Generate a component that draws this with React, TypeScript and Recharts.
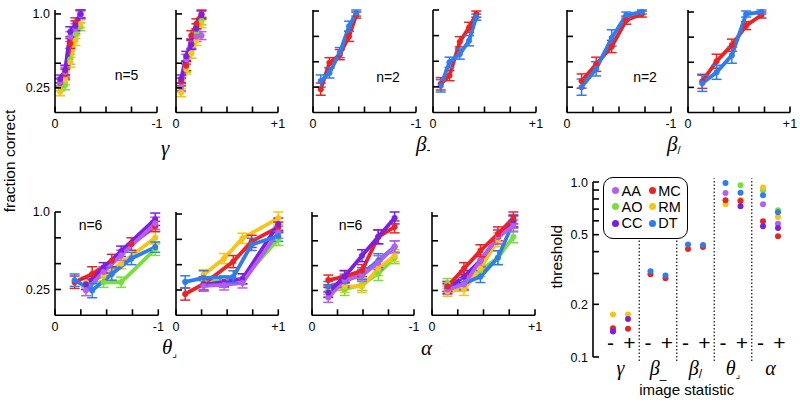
import React from 'react';
import { LineChart, Line, XAxis, YAxis, ErrorBar, ScatterChart, Scatter, ReferenceLine } from 'recharts';

const SANS = '"Liberation Sans", Arial, Helvetica, sans-serif';
const SERIF = '"Liberation Serif", "Times New Roman", serif';

const COLORS: Record<string, string> = {
  AA: '#b65ef2',
  MC: '#ee2222',
  AO: '#79e03a',
  RM: '#f6c414',
  CC: '#7b1fe3',
  DT: '#2e7df0',
};
const LEGEND_ROWS = [['AA', 'MC'], ['AO', 'RM'], ['CC', 'DT']];

// ---- psychometric data: gamma ----
const gammaX = [0.05, 0.1, 0.15, 0.2, 0.25];
const gNegAO = [0.26, 0.28, 0.54, 0.8, 0.87];
const gNegRM = [0.21, 0.33, 0.51, 0.73, 0.9];
const gNegMC = [0.3, 0.39, 0.7, 0.91, 1.0];
const gNegAA = [0.31, 0.41, 0.77, 0.85, 0.99];
const gNegCC = [0.34, 0.43, 0.82, 0.88, 1.0];
const gPosAO = [0.25, 0.46, 0.6, 0.8, 0.93];
const gPosRM = [0.2, 0.44, 0.6, 0.73, 0.9];
const gPosMC = [0.31, 0.475, 0.78, 0.9, 1.0];
const gPosAA = [0.26, 0.54, 0.7, 0.77, 0.78];
const gPosCC = [0.34, 0.57, 0.69, 0.85, 0.99];
const gammaErr = [0.04, 0.05, 0.05, 0.05, 0.04];

// ---- beta_ (horizontal) ----
const bhX = [0.075, 0.16, 0.26, 0.35, 0.42];
const bhNegMC = [0.23, 0.49, 0.57, 0.75, 0.96];
const bhNegDT = [0.31, 0.39, 0.59, 0.85, 0.98];
const bhPosMC = [0.28, 0.36, 0.69, 0.83, 0.96];
const bhPosDT = [0.26, 0.49, 0.57, 0.7, 0.93];
const bhErr = [0.06, 0.05, 0.05, 0.05, 0.03];

// ---- beta/ (oblique) ----
const boX = [0.14, 0.28, 0.43, 0.57, 0.72];
const boNegMC = [0.31, 0.475, 0.65, 0.91, 0.97];
const boNegDT = [0.25, 0.43, 0.735, 0.96, 0.99];
const boPosMC = [0.31, 0.51, 0.67, 0.865, 0.97];
const boPosDT = [0.29, 0.4, 0.57, 0.98, 1.0];
const boErrMC = [0.07, 0.07, 0.06, 0.04, 0.03];
const boErrDT = [0.08, 0.07, 0.08, 0.03, 0.02];

// ---- theta (corner) ----
const thNegX5 = [0.19, 0.36, 0.55, 0.74, 0.97];
const thNegX4 = [0.3, 0.47, 0.64, 0.97];
const thNegMC = [0.32, 0.4, 0.53, 0.69, 0.86];
const thNegDT = [0.34, 0.24, 0.4, 0.55, 0.66];
const thNegAO = [0.3, 0.32, 0.32, 0.64];
const thNegRM = [0.32, 0.38, 0.5, 0.75];
const thNegAA = [0.24, 0.42, 0.58, 0.89];
const thNegCC = [0.3, 0.46, 0.62, 0.93];
const thPosX5 = [0.09, 0.27, 0.56, 0.74, 1.0];
const thPosX4 = [0.27, 0.47, 0.65, 1.0];
const thPosMC = [0.21, 0.31, 0.53, 0.73, 0.87];
const thPosDT = [0.33, 0.37, 0.38, 0.7, 0.78];
const thPosRM = [0.4, 0.56, 0.76, 0.96];
const thPosAO = [0.33, 0.34, 0.36, 0.75];
const thPosAA = [0.29, 0.3, 0.32, 0.82];
const thPosCC = [0.3, 0.33, 0.36, 0.9];
const thErr5 = [0.06, 0.07, 0.06, 0.06, 0.05];
const thErr4 = [0.05, 0.05, 0.05, 0.06];

// ---- alpha ----
const alNegX = [0.16, 0.32, 0.49, 0.65, 0.81];
const alNegAO = [0.26, 0.26, 0.31, 0.42, 0.58];
const alNegRM = [0.24, 0.29, 0.29, 0.47, 0.6];
const alNegDT = [0.29, 0.34, 0.42, 0.55, 0.69];
const alNegAA = [0.18, 0.355, 0.4, 0.53, 0.69];
const alNegMC = [0.355, 0.39, 0.45, 0.79, 0.89];
const alNegCC = [0.23, 0.39, 0.6, 0.79, 0.98];
const alPosX = [0.15, 0.31, 0.47, 0.64, 0.79];
const alPosAO = [0.32, 0.32, 0.45, 0.58, 0.79];
const alPosRM = [0.24, 0.26, 0.47, 0.76, 0.94];
const alPosDT = [0.29, 0.32, 0.39, 0.58, 0.94];
const alPosAA = [0.26, 0.31, 0.55, 0.79, 0.9];
const alPosCC = [0.27, 0.39, 0.55, 0.79, 0.95];
const alPosMC = [0.29, 0.47, 0.65, 0.82, 0.98];
const alErr = [0.05, 0.06, 0.06, 0.07, 0.06];

// ---- thresholds: order gamma-, gamma+, beta_-, beta_+, beta/-, beta/+, theta-, theta+, alpha-, alpha+
const thrAA = [0.142, null, null, null, null, null, 0.865, null, 0.746, 0.578];
const thrAO = [null, null, null, null, null, null, null, 0.957, 0.897, 0.689];
const thrRM = [0.175, 0.175, null, null, null, null, 0.746, 0.79, 0.929, 0.631];
const thrMC = [0.146, 0.145, 0.297, 0.282, 0.414, 0.425, 0.786, 0.78, 0.596, 0.49];
const thrCC = [0.14, 0.165, null, null, null, null, null, 0.727, 0.558, 0.546];
const thrDT = [null, null, 0.309, 0.292, 0.44, 0.437, 0.987, 0.868, 0.839, 0.671];
const THR_GROUP_LABELS = [
  { base: 'γ', sub: '' },
  { base: 'β', sub: '_' },
  { base: 'β', sub: '/' },
  { base: 'θ', sub: '⌟' },
  { base: 'α', sub: '' },
];
const THR_SIGNS = ['-', '+'];
const THR_Y_TICKS = [0.1, 0.2, 0.3, 0.4, 0.5, 0.6, 0.7, 0.8, 0.9, 1.0];
const THR_Y_LABELED = [0.1, 0.2, 0.5, 1.0];

const X_TICKS = [0, 0.25, 0.5, 0.75, 1];
const Y_TICKS = [0.25, 0.5, 0.75, 1];

type Pt = { x: number; y: number; e: number };
const mk = (xs: number[], ys: number[], es: number[]): Pt[] => xs.map((x, i) => ({ x, y: ys[i], e: es[i] }));
const thrPts = (vals: (number | null)[]) =>
  vals
    .map((v, i) => (v == null ? null : { x: Math.floor(i / 2) - 0.2 + 0.4 * (i % 2), y: v }))
    .filter(Boolean) as { x: number; y: number }[];

const PANELS = [
  { x0: 55, w: 102, yTop: 9.5, yBot: 112, end: '-1', showY: true,
    series: [['AO', mk(gammaX, gNegAO, gammaErr)], ['RM', mk(gammaX, gNegRM, gammaErr)], ['MC', mk(gammaX, gNegMC, gammaErr)], ['AA', mk(gammaX, gNegAA, gammaErr)], ['CC', mk(gammaX, gNegCC, gammaErr)]] },
  { x0: 176, w: 102, yTop: 9.5, yBot: 112, end: '+1', showY: false,
    series: [['AO', mk(gammaX, gPosAO, gammaErr)], ['RM', mk(gammaX, gPosRM, gammaErr)], ['MC', mk(gammaX, gPosMC, gammaErr)], ['AA', mk(gammaX, gPosAA, gammaErr)], ['CC', mk(gammaX, gPosCC, gammaErr)]] },
  { x0: 313, w: 103, yTop: 9.5, yBot: 112, end: '-1', showY: false,
    series: [['MC', mk(bhX, bhNegMC, bhErr)], ['DT', mk(bhX, bhNegDT, bhErr)]] },
  { x0: 433, w: 103, yTop: 9.5, yBot: 112, end: '+1', showY: false,
    series: [['MC', mk(bhX, bhPosMC, bhErr)], ['DT', mk(bhX, bhPosDT, bhErr)]] },
  { x0: 567, w: 104, yTop: 9.5, yBot: 112, end: '-1', showY: false,
    series: [['MC', mk(boX, boNegMC, boErrMC)], ['DT', mk(boX, boNegDT, boErrDT)]] },
  { x0: 688, w: 102, yTop: 9.5, yBot: 112, end: '+1', showY: false,
    series: [['MC', mk(boX, boPosMC, boErrMC)], ['DT', mk(boX, boPosDT, boErrDT)]] },
  { x0: 55, w: 103.3, yTop: 211.7, yBot: 315, end: '-1', showY: true,
    series: [['AO', mk(thNegX4, thNegAO, thErr4)], ['RM', mk(thNegX4, thNegRM, thErr4)], ['MC', mk(thNegX5, thNegMC, thErr5)], ['CC', mk(thNegX4, thNegCC, thErr4)], ['AA', mk(thNegX4, thNegAA, thErr4)], ['DT', mk(thNegX5, thNegDT, thErr5)]] },
  { x0: 176, w: 102.3, yTop: 211.7, yBot: 315, end: '+1', showY: false,
    series: [['AO', mk(thPosX4, thPosAO, thErr4)], ['RM', mk(thPosX4, thPosRM, thErr4)], ['MC', mk(thPosX5, thPosMC, thErr5)], ['CC', mk(thPosX4, thPosCC, thErr4)], ['AA', mk(thPosX4, thPosAA, thErr4)], ['DT', mk(thPosX5, thPosDT, thErr5)]] },
  { x0: 312, w: 102, yTop: 211.7, yBot: 315, end: '-1', showY: false,
    series: [['AO', mk(alNegX, alNegAO, alErr)], ['RM', mk(alNegX, alNegRM, alErr)], ['DT', mk(alNegX, alNegDT, alErr)], ['AA', mk(alNegX, alNegAA, alErr)], ['MC', mk(alNegX, alNegMC, alErr)], ['CC', mk(alNegX, alNegCC, alErr)]] },
  { x0: 432, w: 103, yTop: 211.7, yBot: 315, end: '+1', showY: false,
    series: [['AO', mk(alPosX, alPosAO, alErr)], ['RM', mk(alPosX, alPosRM, alErr)], ['DT', mk(alPosX, alPosDT, alErr)], ['CC', mk(alPosX, alPosCC, alErr)], ['AA', mk(alPosX, alPosAA, alErr)], ['MC', mk(alPosX, alPosMC, alErr)]] },
];

const THR_SERIES: [string, (number | null)[]][] = [
  ['AO', thrAO], ['RM', thrRM], ['AA', thrAA], ['MC', thrMC], ['CC', thrCC], ['DT', thrDT],
];

const XTick = (props: any) => {
  const { x, y, payload, endLabel } = props;
  const v = payload.value;
  const label = v === 0 ? '0' : v === 1 ? endLabel : null;
  return (
    <g>
      <line x1={x} x2={x} y1={y} y2={y - 6} stroke="#000" strokeWidth={1.6} />
      {label && (
        <text x={x} y={y + 15.5} textAnchor="middle" fontSize={12.5} fontFamily={SANS} fill="#000">{label}</text>
      )}
    </g>
  );
};

const YTick = (props: any) => {
  const { x, y, payload, showLabel, labeled, fmt } = props;
  const v = payload.value;
  const show = showLabel && labeled.some((l: number) => Math.abs(l - v) < 1e-9);
  return (
    <g>
      <line x1={x} x2={x + 6} y1={y} y2={y} stroke="#000" strokeWidth={1.6} />
      {show && (
        <text x={x - 5} y={y + 4.5} textAnchor="end" fontSize={12.5} fontFamily={SANS} fill="#000">{fmt(v)}</text>
      )}
    </g>
  );
};

const fmtPsy = (v: number) => (v === 1 ? '1.0' : String(v));

function PsyPanel({ x0, w, yTop, yBot, end, showY, series }: any) {
  // axis boxes are 1px thick; margins are set so the plot box lands on x0..x0+w, yTop..yBot
  const ML = 44, MR = 16, MT = 10, MB = 23;
  const h = yBot - yTop;
  return (
    <div style={{ position: 'absolute', left: x0 - ML - 1, top: yTop - MT }}>
      <LineChart width={w + ML + 1 + MR} height={h + MT + MB + 1} margin={{ left: ML, right: MR, top: MT, bottom: MB }}>
        <XAxis type="number" dataKey="x" domain={[0, 1]} ticks={X_TICKS} interval={0} height={1}
          tickSize={0} tickMargin={0} tickLine={false} axisLine={{ stroke: '#000', strokeWidth: 1.6 }}
          tick={(p: any) => <XTick {...p} endLabel={end} />} />
        <YAxis type="number" domain={[0, 1]} ticks={Y_TICKS} interval={0} width={1}
          tickSize={0} tickMargin={0} tickLine={false} axisLine={{ stroke: '#000', strokeWidth: 1.6 }}
          tick={(p: any) => <YTick {...p} showLabel={showY} labeled={[0.25, 1]} fmt={fmtPsy} />} />
        {series.map(([id, pts]: [string, Pt[]]) => (
          <Line key={id} data={pts} dataKey="y" type="linear" stroke={COLORS[id]} strokeWidth={3.8}
            dot={{ r: 2.8, fill: COLORS[id], stroke: COLORS[id], strokeWidth: 0.5 }} activeDot={false}
            isAnimationActive={false}>
            <ErrorBar dataKey="e" width={5} strokeWidth={1.5} stroke={COLORS[id]} direction="y" isAnimationActive={false} />
          </Line>
        ))}
      </LineChart>
    </div>
  );
}

// group label tick: draws the "-" / "+" condition marks above and the statistic symbol below
const GroupTick = (props: any) => {
  const { x, y, payload } = props;
  const lab = THR_GROUP_LABELS[Math.round(payload.value)];
  if (!lab) return <g />;
  return (
    <g>
      <text x={x - 10} y={y - 7.5} textAnchor="middle" fontSize={21} fontFamily={SANS} fill="#000">{THR_SIGNS[0]}</text>
      <text x={x + 9} y={y - 7.5} textAnchor="middle" fontSize={21} fontFamily={SANS} fill="#000">{THR_SIGNS[1]}</text>
      <text x={x} y={y + 17.5} textAnchor="middle" fontSize={20} fontFamily={SERIF} fontStyle="italic" fill="#000">
        {lab.base}
        {lab.sub && (
          <tspan fontSize={lab.sub === '⌟' ? 10 : 12} fontStyle="normal" fontFamily={lab.sub === '⌟' ? '"DejaVu Sans", sans-serif' : SANS} dy={3}>{lab.sub}</tspan>
        )}
      </text>
    </g>
  );
};

function ThresholdPanel() {
  const ML = 44, MR = 7, MT = 10, MB = 38;
  const x0 = 593, w = 200, yTop = 181.7, yBot = 356.7;
  const dom: [number, number] = [-0.733, 4.6];
  return (
    <div style={{ position: 'absolute', left: x0 - ML - 1, top: yTop - MT }}>
      <ScatterChart width={w + ML + 1 + MR} height={yBot - yTop + MT + MB + 1} margin={{ left: ML, right: MR, top: MT, bottom: MB }}>
        <XAxis type="number" dataKey="x" domain={dom} ticks={[0, 1, 2, 3, 4]} interval={0} height={1}
          tickSize={0} tickMargin={0} tickLine={false} axisLine={false} tick={(p: any) => <GroupTick {...p} />} />
        <YAxis type="number" dataKey="y" scale="log" domain={[0.1, 1]} ticks={THR_Y_TICKS} interval={0} width={1}
          tickSize={0} tickMargin={0} tickLine={false} axisLine={{ stroke: '#000', strokeWidth: 1.6 }}
          tick={(p: any) => <YTick {...p} showLabel={true} labeled={THR_Y_LABELED} fmt={(v: number) => v.toFixed(1)} />} />
        {[0.5, 1.5, 2.5, 3.5].map((sx) => (
          <ReferenceLine key={sx} segment={[{ x: sx, y: 0.095 }, { x: sx, y: 1.05 }]} ifOverflow="visible"
            stroke="#222" strokeWidth={1.3} strokeDasharray="1.5 2" />
        ))}
        {THR_SERIES.map(([id, vals]) => (
          <Scatter key={id} data={thrPts(vals)} fill={COLORS[id]} isAnimationActive={false}
            shape={(p: any) => <circle cx={p.cx} cy={p.cy} r={3} fill={COLORS[id]} />} />
        ))}
      </ScatterChart>
    </div>
  );
}

function LegendBox() {
  return (
    <div style={{ position: 'absolute', left: 603, top: 177, width: 85, height: 62, border: '1.6px solid #000', borderRadius: 10, background: '#fff', boxSizing: 'border-box', fontFamily: SANS }}>
      {LEGEND_ROWS.map((row, ri) =>
        row.map((id, ci) => (
          <div key={id} style={{ position: 'absolute', left: 8 + ci * 36.7, top: 4.5 + ri * 16.3, height: 16, display: 'flex', alignItems: 'center' }}>
            <span style={{ display: 'inline-block', width: 7, height: 7, borderRadius: '50%', background: COLORS[id], marginRight: 2.5 }} />
            <span style={{ fontSize: 14.5, color: '#000', lineHeight: '16px' }}>{id}</span>
          </div>
        ))
      )}
    </div>
  );
}

function Labels() {
  const greek = { fontFamily: SERIF, fontStyle: 'italic' as const, fontSize: 21, fill: '#000' };
  const sans = { fontFamily: SANS, fill: '#000' };
  return (
    <svg width={800} height={404} style={{ position: 'absolute', left: 0, top: 0, pointerEvents: 'none' }}>
      <text transform="rotate(-90 15 161)" x={15} y={161} textAnchor="middle" fontSize={15.5} {...sans}>fraction correct</text>
      <text transform="rotate(-90 562 256.7)" x={562} y={256.7} textAnchor="middle" fontSize={15.5} {...sans}>threshold</text>
      <text x={686.7} y={395} textAnchor="middle" fontSize={15} {...sans}>image statistic</text>

      <text x={161} y={155} {...greek}>γ</text>
      <text x={416} y={151} {...greek}>β<tspan fontSize={12} fontStyle="normal" fontFamily={SANS} dy={3}>-</tspan></text>
      <text x={667} y={151} {...greek}>β<tspan fontSize={11} fontStyle="normal" fontFamily={SANS} dy={3}>/</tspan></text>
      <text x={162} y={354} {...greek}>θ<tspan fontSize={10} fontStyle="normal" fontFamily={'"DejaVu Sans", sans-serif'} dy={3}>⌟</tspan></text>
      <text x={421} y={355} {...greek}>α</text>

      <text x={126.5} y={80} textAnchor="middle" fontSize={14} {...sans}>n=5</text>
      <text x={388} y={82} textAnchor="middle" fontSize={14} {...sans}>n=2</text>
      <text x={645} y={82} textAnchor="middle" fontSize={14} {...sans}>n=2</text>
      <text x={90.5} y={230} textAnchor="middle" fontSize={14} {...sans}>n=6</text>
      <text x={350.5} y={230} textAnchor="middle" fontSize={14} {...sans}>n=6</text>
    </svg>
  );
}

export default function App() {
  return (
    <div style={{ position: 'absolute', left: 0, top: 0, width: 800, height: 404, background: '#fff', overflow: 'hidden' }}>
      {PANELS.map((p, i) => (
        <PsyPanel key={i} {...p} />
      ))}
      <ThresholdPanel />
      <Labels />
      <LegendBox />
    </div>
  );
}
